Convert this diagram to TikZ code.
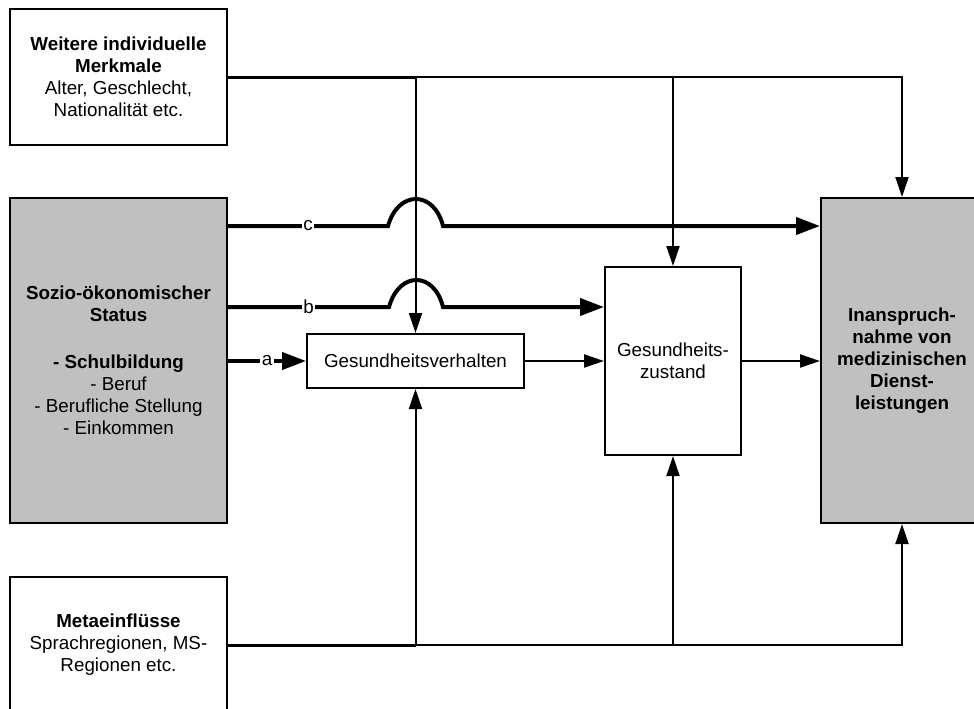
\documentclass[tikz,border=0pt]{standalone}
\usepackage{fontspec}
\setmainfont{Liberation Sans}
\usetikzlibrary{arrows.meta,calc}
\definecolor{boxgray}{HTML}{C0C0C0}
\begin{document}
\begin{tikzpicture}[x=1pt,y=-1pt,
  box/.style={draw=black,line width=2pt,fill=white,align=center,inner sep=0pt,
    font=\fontsize{18.8}{22}\selectfont},
  graybox/.style={box,fill=boxgray},
  thickarr/.style={line width=4pt,-{Triangle[length=24pt,width=17pt]}},
  thickln/.style={line width=4pt},
  thinarr/.style={line width=2pt,-{Triangle[length=20pt,width=13pt]}},
  thinln/.style={line width=2pt},
  midln/.style={line width=3pt},
  lbl/.style={fill=white,inner sep=1.5pt,font=\fontsize{18.8}{22}\selectfont}
]
\useasboundingbox (0,0) rectangle (974,709);
\clip (0,0) rectangle (974,709);
\fill[white] (0,0) rectangle (974,709);

% boxes
\node[box,minimum width=217pt,minimum height=136pt] (W) at (118.5,77)
  {\textbf{Weitere individuelle}\\\textbf{Merkmale}\\Alter, Geschlecht,\\Nationalität etc.};
\node[graybox,minimum width=217pt,minimum height=325pt] (S) at (118.5,360.5)
  {\textbf{Sozio-ökonomischer}\\\textbf{Status}\\[25pt]\textbf{- Schulbildung}\\- Beruf\\- Berufliche Stellung\\- Einkommen};
\node[box,minimum width=217pt,minimum height=136pt] (M) at (118.5,645)
  {\textbf{Metaeinflüsse}\\Sprachregionen, MS-\\Regionen etc.};
\node[box,minimum width=217pt,minimum height=54pt] (GV) at (415.5,361)
  {Gesundheitsverhalten};
\node[box,minimum width=136pt,minimum height=188pt] (GZ) at (673,361)
  {Gesundheits-\\zustand};
\node[graybox,minimum width=162pt,minimum height=325pt] (I) at (902,360.5)
  {\textbf{Inanspruch-}\\\textbf{nahme von}\\\textbf{medizinischen}\\\textbf{Dienst-}\\\textbf{leistungen}};

% top distribution line
\draw[midln] (W.east) -- (GV.north |- W.east);
\draw[thinarr] (GV.north |- W.east) -| (I.north);
\draw[thinarr] (GV.north |- W.east) -- (GV.north);
\draw[thinarr] (GZ.north |- W.east) -- (GZ.north);

% bottom distribution line
\draw[midln] (M.east) -- (GV.south |- M.east);
\draw[thinarr] (GV.south |- M.east) -| (I.south);
\draw[thinarr] (GV.south |- M.east) -- (GV.south);
\draw[thinarr] (GZ.south |- M.east) -- (GZ.south);

% path c
\draw[thickarr] (S.east |- 0,226) -- node[lbl]{c} (388,226)
  .. controls (398,190) and (434,190) .. (443,226) -- (I.west |- 0,226);
% path b
\draw[thickarr] (S.east |- 0,307) -- node[lbl]{b} (389,307)
  .. controls (399,271) and (434,271) .. (443,307) -- (GZ.west |- 0,307);
% path a
\draw[thickarr] (S.east |- GV.west) -- node[lbl]{a} (GV.west);

% chain
\draw[thinarr] (GV.east) -- (GV.east -| GZ.west);
\draw[thinarr] (GZ.east) -- (GZ.east -| I.west);
\end{tikzpicture}
\end{document}
